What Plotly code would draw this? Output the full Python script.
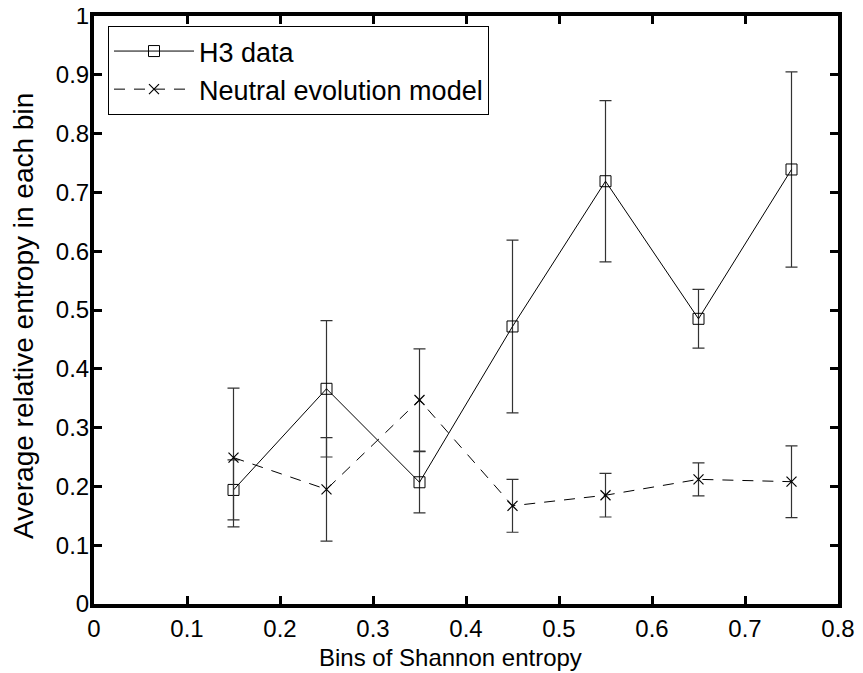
import plotly.graph_objects as go

bins = [0.15, 0.25, 0.35, 0.45, 0.55, 0.65, 0.75]
h3_values = [0.194, 0.366, 0.207, 0.472, 0.719, 0.485, 0.739]
h3_errors = [0.051, 0.116, 0.052, 0.147, 0.137, 0.050, 0.166]
neutral_values = [0.249, 0.195, 0.347, 0.167, 0.185, 0.212, 0.208]
neutral_errors = [0.118, 0.088, 0.087, 0.045, 0.037, 0.028, 0.061]

x_title = "Bins of Shannon entropy"
y_title = "Average relative entropy in each bin"

FONT = "Liberation Sans, Arial, Helvetica, sans-serif"

# The page body has an 8px default margin, so the figure is drawn 8px
# smaller and all target positions are shifted by 8px.
OFF = 8
W, H = 863 - OFF, 673 - OFF
L = 94 - OFF
T = 16 - OFF
R = W - (838 - OFF)
B = H - (604 - OFF)
pw = W - L - R
ph = H - T - B


def px_x(xr):
    return (xr - OFF - L) / pw


def px_y(yr):
    return ((T + ph) - (yr - OFF)) / ph


fig = go.Figure()
fig.add_trace(go.Scatter(
    x=bins, y=h3_values, name="H3 data", mode="lines+markers",
    line=dict(color="black", width=1),
    marker=dict(symbol="square-open", size=11, color="black", line=dict(width=1, color="black")),
    error_y=dict(type="data", array=h3_errors, visible=True, color="#333333", thickness=1.2, width=6),
))
fig.add_trace(go.Scatter(
    x=bins, y=neutral_values, name="Neutral evolution model", mode="lines+markers",
    line=dict(color="black", width=1, dash="11px,9px"),
    marker=dict(symbol="x-thin-open", size=10, color="black", line=dict(width=1.2, color="black")),
    error_y=dict(type="data", array=neutral_errors, visible=True, color="#333333", thickness=1.2, width=6),
))

axis_common = dict(
    showline=True, linewidth=4, linecolor="black", mirror="ticks",
    ticks="inside", ticklen=8, tickwidth=3, tickcolor="black",
    showgrid=False, zeroline=False, automargin=False,
    ticklabeloverflow="allow",
    tickfont=dict(family=FONT, size=24, color="black"),
)

fig.update_xaxes(range=[0, 0.8], dtick=0.1, tick0=0, **axis_common)
fig.update_yaxes(range=[0, 1], dtick=0.1, tick0=0, ticklabelstandoff=-4, **axis_common)

fig.add_annotation(
    text=x_title, xref="paper", yref="paper",
    x=px_x(450), y=px_y(657),
    xanchor="center", yanchor="middle", showarrow=False,
    font=dict(family=FONT, size=24, color="black"),
)
fig.add_annotation(
    text=y_title, xref="paper", yref="paper",
    x=px_x(23), y=px_y(316),
    xanchor="center", yanchor="middle", showarrow=False, textangle=-90,
    font=dict(family=FONT, size=28, color="black"),
)

fig.update_layout(
    width=W, height=H,
    margin=dict(l=L, r=R, t=T, b=B, autoexpand=False),
    paper_bgcolor="white", plot_bgcolor="white",
    font=dict(family=FONT, size=24, color="black"),
    showlegend=True,
    legend=dict(x=px_x(108), y=px_y(26), xanchor="left", yanchor="top",
                bgcolor="white", bordercolor="black", borderwidth=1,
                font=dict(family=FONT, size=27, color="black"),
                tracegroupgap=0, itemwidth=80),
)

fig.write_html("out.html")
